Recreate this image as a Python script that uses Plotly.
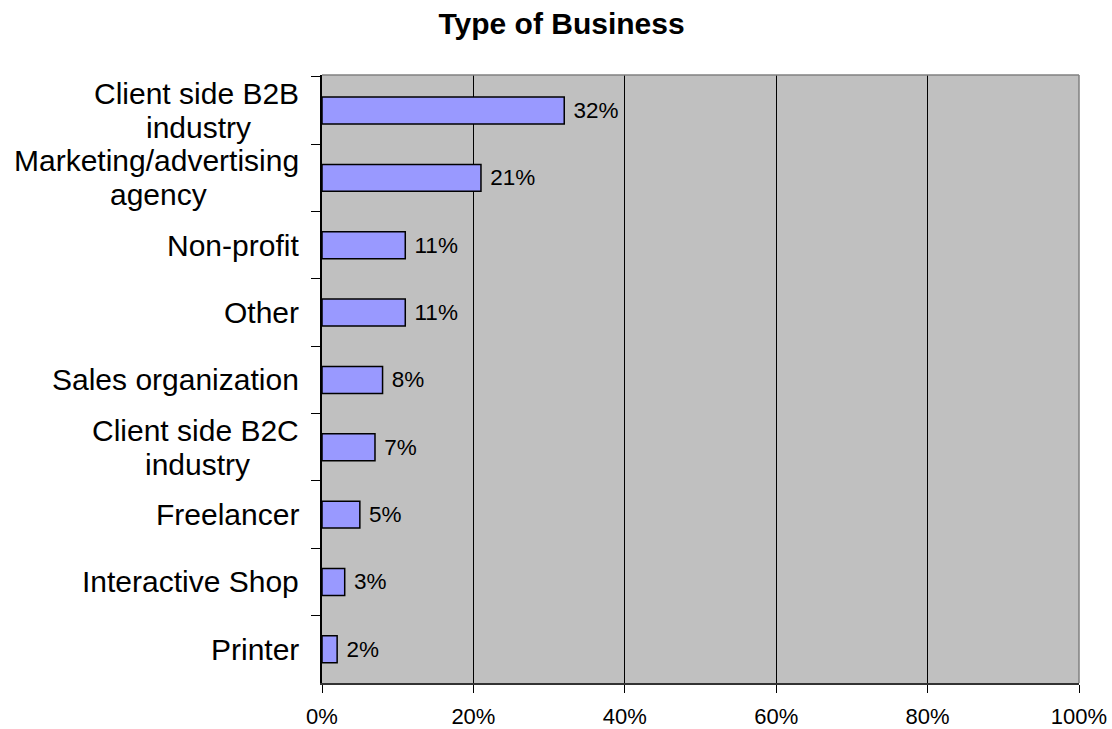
import plotly.graph_objects as go

# Survey: type of business of respondents (share of respondents, %)
categories = [
    ["Client side B2B", "industry"],
    ["Marketing/advertising", "agency"],
    ["Non-profit"],
    ["Other"],
    ["Sales organization"],
    ["Client side B2C", "industry"],
    ["Freelancer"],
    ["Interactive Shop"],
    ["Printer"],
]
shares = [32, 21, 11, 11, 8, 7, 5, 3, 2]
x_ticks = [0, 20, 40, 60, 80, 100]
x_tick_labels = ["0%", "20%", "40%", "60%", "80%", "100%"]

FONT = "Liberation Sans, Arial, sans-serif"
LABEL_SIZE = 30
LINE_GAP = 34          # px between baselines of wrapped category labels
LABEL_PAD = 21         # px between label right edge and the axis

# Arial/Liberation Sans advance widths (em) used to centre wrapped lines
ADV = {
    " ": .278, "/": .278, "-": .333, "2": .556,
    "B": .667, "C": .722, "M": .833,
    "a": .556, "c": .5, "d": .556, "e": .556, "g": .556, "i": .222,
    "k": .5, "l": .222, "n": .556, "r": .333, "s": .5, "t": .278,
    "u": .556, "v": .5, "y": .5,
}


def text_width(s, size):
    return sum(ADV.get(ch, .556) for ch in s) * size


cat_ids = [str(i) for i in range(len(categories))]

fig = go.Figure(
    go.Bar(
        x=shares,
        y=cat_ids,
        orientation="h",
        width=0.4,
        marker=dict(color="#9999FF", line=dict(color="#000000", width=1.5)),
        text=[f" {v}%" for v in shares],
        textposition="outside",
        textfont=dict(family=FONT, size=22.5, color="#000000"),
        cliponaxis=False,
        hoverinfo="skip",
    )
)

# category labels to the left of the axis: the widest line is right-aligned,
# the other lines of a wrapped label are centred under it
for cid, lines in zip(cat_ids, categories):
    widths = [text_width(s, LABEL_SIZE) for s in lines]
    block_w = max(widths)
    n = len(lines)
    for k, line in enumerate(lines):
        widest = widths[k] == block_w
        fig.add_annotation(
            x=0, xref="paper",
            xanchor="right" if widest else "center",
            xshift=-LABEL_PAD if widest else -LABEL_PAD - block_w / 2,
            y=cid, yref="y", yanchor="middle",
            yshift=((n - 1) / 2 - k) * LINE_GAP,
            text=line, showarrow=False,
            font=dict(family=FONT, size=LABEL_SIZE, color="#000000"),
        )

# grey frame on the top and right sides of the plot area
fig.add_shape(type="line", xref="x domain", yref="y domain",
              x0=0, x1=1, y0=1, y1=1, line=dict(color="#808080", width=1.5))
fig.add_shape(type="line", xref="x domain", yref="y domain",
              x0=1, x1=1, y0=0, y1=1, line=dict(color="#808080", width=1.5))

fig.update_layout(
    margin=dict(l=322, r=33, t=75, b=46, autoexpand=False),
    paper_bgcolor="#FFFFFF",
    plot_bgcolor="#C0C0C0",
    showlegend=False,
    title=dict(
        text="<b>Type of Business</b>",
        x=0.505, xref="container", xanchor="center",
        y=1 - 23 / 729, yref="container", yanchor="middle",
        font=dict(family=FONT, size=30, color="#000000"),
    ),
    xaxis=dict(
        range=[0, 100],
        tickvals=x_ticks,
        ticktext=x_tick_labels,
        ticks="outside", ticklen=8, tickcolor="#000000", tickwidth=1,
        ticklabelstandoff=5,
        tickfont=dict(family=FONT, size=22, color="#000000"),
        showgrid=True, gridcolor="#000000", gridwidth=1,
        showline=True, linecolor="#333333", linewidth=1.5,
        zeroline=False, fixedrange=True, automargin=False,
    ),
    yaxis=dict(
        type="category",
        categoryorder="array",
        categoryarray=cat_ids,
        autorange="reversed",
        tickson="boundaries",
        ticks="outside", ticklen=9, tickcolor="#000000", tickwidth=1,
        showticklabels=False,
        showgrid=False,
        showline=True, linecolor="#000000", linewidth=1.5,
        zeroline=False, fixedrange=True, automargin=False,
    ),
)

fig.write_html("out.html", config={"displayModeBar": False})
